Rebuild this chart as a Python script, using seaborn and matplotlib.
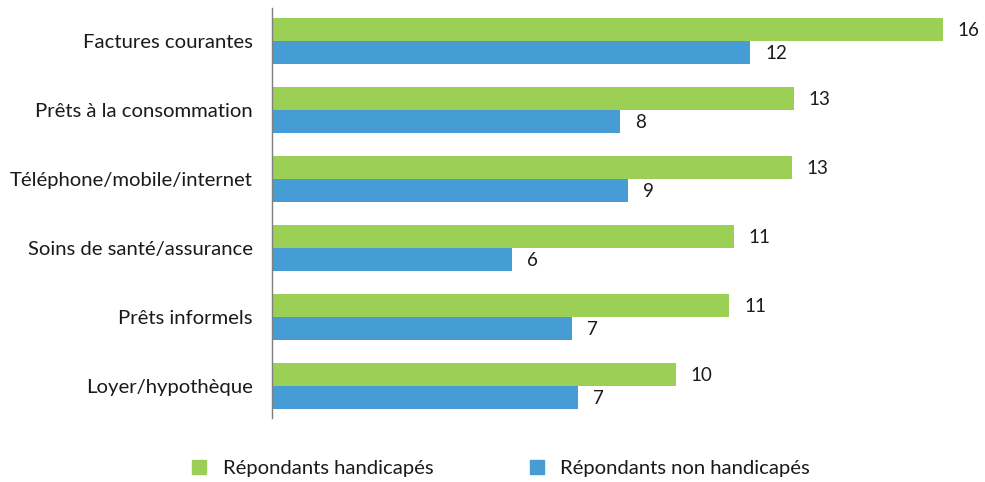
import matplotlib
matplotlib.use("Agg")
import matplotlib.pyplot as plt
import seaborn as sns
import pandas as pd
from matplotlib.lines import Line2D

categories = ["Factures courantes", "Prêts à la consommation", "Téléphone/mobile/internet",
              "Soins de santé/assurance", "Prêts informels", "Loyer/hypothèque"]
series = ["Répondants handicapés", "Répondants non handicapés"]
handicapes = [16.2, 12.6, 12.55, 11.15, 11.05, 9.75]
non_handicapes = [11.55, 8.4, 8.6, 5.8, 7.25, 7.4]
labels_handicapes = ["16", "13", "13", "11", "11", "10"]
labels_non_handicapes = ["12", "8", "9", "6", "7", "7"]
colors = ["#9BCF55", "#469DD6"]

df = pd.DataFrame({
    "categorie": categories * 2,
    "serie": [series[0]] * len(categories) + [series[1]] * len(categories),
    "valeur": handicapes + non_handicapes,
})

sns.set_theme(style="white")
plt.rcParams["font.family"] = ["Lato", "DejaVu Sans"]

fig = plt.figure(figsize=(9.85, 4.82), dpi=100)
ax = fig.add_axes([272 / 985, 1 - 418 / 482, 693 / 985, 410 / 482])

sns.barplot(data=df, y="categorie", x="valeur", hue="serie", order=categories,
            hue_order=series, palette=colors, orient="h", width=0.667,
            saturation=1, ax=ax, legend=False, linewidth=0)

for container, labs in zip(ax.containers, [labels_handicapes, labels_non_handicapes]):
    for bar, lab in zip(container, labs):
        ax.annotate(lab, (bar.get_width(), bar.get_y() + bar.get_height() / 2),
                    xytext=(15, -1), textcoords="offset pixels",
                    va="center", ha="left", fontsize=13.5, color="#1a1a1a")

ax.set_xlim(0, 693 / 41.4)
ax.set_ylim(5.47, -0.48)
ax.set_xlabel("")
ax.set_ylabel("")
ax.set_xticks([])
for s in ["top", "right", "bottom"]:
    ax.spines[s].set_visible(False)
ax.spines["left"].set_color("#7f7f7f")
ax.spines["left"].set_linewidth(1.0)
ax.tick_params(axis="y", length=0, pad=14, labelsize=14.6, labelcolor="#1a1a1a")

handles = [Line2D([], [], marker="s", linestyle="", markersize=10.5, color=c) for c in colors]
fig.legend(handles, series, loc="center", bbox_to_anchor=(0.502, 1 - 468 / 482), ncol=2,
           frameon=False, fontsize=14.6, handletextpad=0.15, columnspacing=4.1,
           labelcolor="#1a1a1a")

fig.savefig("out.png", dpi=100)
